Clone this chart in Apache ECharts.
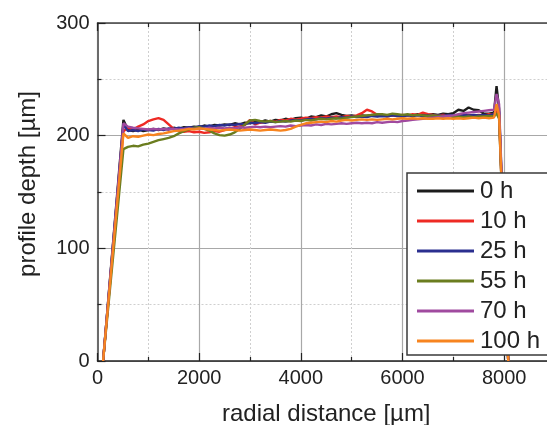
<!DOCTYPE html>
<html>
<head>
<meta charset="utf-8">
<script src="https://cdn.jsdelivr.net/npm/echarts@6/dist/echarts.min.js"></script>
<style>
html,body{margin:0;padding:0;background:#fff;}
#chart{width:547px;height:425px;}
</style>
</head>
<body>
<div id="chart"></div>
<script>
// radial distance sample positions [µm]
var radialDistance = [110, 510,
  600, 700, 800, 900, 1000, 1100, 1200, 1300, 1400, 1500,
  1600, 1700, 1800, 1900, 2000, 2100, 2200, 2300, 2400, 2500,
  2600, 2700, 2800, 2900, 3000, 3100, 3200, 3300, 3400, 3500,
  3600, 3700, 3800, 3900, 4000, 4100, 4200, 4300, 4400, 4500,
  4600, 4700, 4800, 4900, 5000, 5100, 5200, 5300, 5400, 5500,
  5600, 5700, 5800, 5900, 6000, 6100, 6200, 6300, 6400, 6500,
  6600, 6700, 6800, 6900, 7000, 7100, 7200, 7300, 7400, 7500,
  7600, 7700, 7800, 7850, 7900, 8080];

var seriesNames = ['0 h', '10 h', '25 h', '55 h', '70 h', '100 h'];
var seriesColors = ['#1c1c1c', '#ee2a24', '#2b2f8f', '#6b7d1f', '#a04a9f', '#f7841f'];

// profile depth [µm]
var depth0h = [0, 214,
  205, 204, 205.5, 204, 205, 206, 205, 206.5, 205.5, 207,
  206, 207.5, 207, 208, 207.5, 209, 208, 209.5, 209, 210,
  209.5, 211, 210, 211.5, 211, 212.5, 212, 213.5, 212.5, 214,
  213.5, 215, 214, 215.5, 216, 215, 217, 216.5, 218, 217,
  219, 220, 218.5, 217.5, 218, 217, 218, 217.5, 218.5, 217.5,
  218, 217.5, 218.5, 218, 217.5, 218.5, 218, 219, 218, 218.5,
  219, 218.5, 219.5, 219, 220, 223, 222, 225, 223, 222.5,
  219.5, 219.5, 220.5, 244, 224, 0];
var depth10h = [0, 204,
  207, 205.5, 208, 210, 213, 214.5, 215.5, 214, 210, 206,
  204.5, 203.5, 204, 203, 203.5, 202.5, 203, 204, 203.5, 205,
  206, 207.5, 208, 209.5, 214, 210, 211.5, 212, 213, 212.5,
  214, 213.5, 215, 214.5, 215, 216, 215.5, 216.5, 216, 217,
  216.5, 217, 216.5, 217.5, 217, 218, 220, 223, 221.5, 218.5,
  218, 217.5, 218, 217.5, 218.5, 218, 219, 218.5, 220.5, 219,
  218.5, 218, 218.5, 218, 217.5, 218.5, 218, 218.5, 218, 218.5,
  218, 219, 218.5, 222, 218, 0];
var depth25h = [0, 210,
  204, 205, 204, 205.5, 205, 204.5, 206, 205, 206.5, 206,
  207, 206.5, 207.5, 207, 208.5, 208, 209, 208.5, 209.5, 209,
  210, 209.5, 210.5, 210, 211.5, 211, 212, 211.5, 212.5, 212,
  213, 212.5, 213.5, 214, 213.5, 214.5, 215, 214.5, 215.5, 215,
  216, 215.5, 216.5, 216, 217, 216.5, 217, 216.5, 217.5, 217,
  217.5, 217, 218, 217.5, 217, 218, 217.5, 218, 217.5, 218,
  217.5, 218, 217.5, 218.5, 218, 217.5, 218.5, 218, 218.5, 218,
  218.5, 218, 219, 226, 221, 0];
var depth55h = [0, 188,
  190, 191, 190.5, 192, 193, 194.5, 196, 197, 198, 199.5,
  202, 204, 205.5, 207, 207.5, 206, 204.5, 202, 200.5, 200,
  201, 203, 206, 210, 213.5, 214, 213, 212.5, 213, 212,
  212.5, 213, 212.5, 213.5, 213, 214, 213.5, 214.5, 215, 214.5,
  215, 215.5, 215, 216, 216.5, 217, 217.5, 218, 218.5, 219,
  219, 218.5, 219.5, 219, 218.5, 219, 218, 218.5, 218, 217.5,
  218, 217.5, 217, 217.5, 216.5, 217, 216.5, 217, 216.5, 217,
  217, 217.5, 217, 220, 215, 0];
var depth70h = [0, 211,
  208, 207, 206.5, 206, 205.5, 206, 205.5, 206, 205.5, 206,
  205.5, 206, 206.5, 206, 206.5, 206, 207, 206.5, 207, 206.5,
  207, 206.5, 207.5, 207, 207.5, 208, 207.5, 208, 207.5, 208,
  208.5, 208, 209, 208.5, 209, 209.5, 209, 210, 209.5, 210.5,
  210, 210.5, 211, 210.5, 211, 211.5, 211, 211.5, 211, 212,
  211.5, 212, 212.5, 212, 213, 213.5, 214, 214.5, 215, 215.5,
  216, 216.5, 217, 217.5, 218, 219, 220, 220.5, 221, 221.5,
  222, 222.5, 223, 237, 228, 0];
var depth100h = [0, 202,
  198, 199.5, 199, 200, 201, 200.5, 201.5, 202, 203, 204,
  204.5, 205, 206, 205.5, 206.5, 206, 205.5, 205, 204.5, 205,
  205.5, 205, 204.5, 205, 205.5, 205, 204.5, 205, 205.5, 205,
  204.5, 205, 206, 208, 209.5, 211, 211.5, 212, 212.5, 212,
  213, 212.5, 213.5, 214, 213.5, 214, 214.5, 214, 214.5, 214,
  214.5, 215, 214.5, 215, 215.5, 215, 215.5, 215, 215.5, 215,
  215, 215.5, 215, 215.5, 215, 215.5, 215, 215.5, 216, 215.5,
  216, 215.5, 216, 228, 218, 0];

var depthSeries = [depth0h, depth10h, depth25h, depth55h, depth70h, depth100h];

var FONT = '"Liberation Sans", Arial, Helvetica, sans-serif';

var series = depthSeries.map(function (vals, i) {
  return {
    name: seriesNames[i],
    type: 'line',
    symbol: 'none',
    color: seriesColors[i],
    lineStyle: { width: 2.4, color: seriesColors[i] },
    data: vals.map(function (v, k) { return [radialDistance[k], v]; }),
    z: 2 + i
  };
});

var chart = echarts.init(document.getElementById('chart'));
chart.setOption({
  animation: false,
  backgroundColor: '#ffffff',
  grid: { left: 97.5, top: 23, bottom: 64, right: -8, containLabel: false, outerBoundsMode: 'none' },
  legend: {
    z: 30,
    orient: 'vertical',
    left: 407,
    top: 173,
    padding: [6, 24, 2, 10],
    icon: 'path://M0,0L57,0L57,3L0,3Z',
    itemWidth: 57,
    itemHeight: 24,
    itemGap: 6,
    backgroundColor: '#ffffff',
    borderColor: '#3a3a3a',
    borderWidth: 1.5,
    borderRadius: 0,
    textStyle: { fontFamily: FONT, fontSize: 24, color: '#222', padding: [0, 0, 0, 1] },
    data: seriesNames
  },
  xAxis: [{
    type: 'value',
    min: 0, max: 9000, interval: 2000,
    name: 'radial distance [µm]',
    nameLocation: 'middle',
    nameGap: 41,
    nameTextStyle: { fontFamily: FONT, fontSize: 24, color: '#222' },
    axisLine: { show: true, lineStyle: { color: '#222', width: 1.5 } },
    axisTick: { show: true, inside: true, length: 8, lineStyle: { color: '#222', width: 1.2 } },
    minorTick: { show: true, splitNumber: 2, length: 4, lineStyle: { color: '#222', width: 1.2 } },
    axisLabel: { fontFamily: FONT, fontSize: 20, color: '#222', margin: 7, showMaxLabel: false,
      formatter: function (v) { return String(v); } },
    splitLine: { show: true, lineStyle: { color: '#a8a8a8', width: 1.2 } },
    minorSplitLine: { show: true, lineStyle: { color: '#cfcfcf', width: 1, type: [2, 2] } }
  }, {
    type: 'value',
    position: 'top',
    min: 0, max: 9000, interval: 2000,
    axisLine: { show: true, lineStyle: { color: '#444', width: 1.5 } },
    axisTick: { show: true, inside: true, length: 8, lineStyle: { color: '#222', width: 1.2 } },
    minorTick: { show: true, splitNumber: 2, length: 4, lineStyle: { color: '#222', width: 1.2 } },
    axisLabel: { show: false },
    splitLine: { show: false }
  }],
  yAxis: {
    type: 'value',
    min: 0, max: 300, interval: 100,
    name: 'profile depth [µm]',
    nameLocation: 'middle',
    nameGap: 57,
    nameTextStyle: { fontFamily: FONT, fontSize: 24, color: '#222', padding: [0, 0, 0, 16] },
    axisLine: { show: true, lineStyle: { color: '#6b6b6b', width: 2 } },
    axisTick: { show: true, inside: true, length: 8, lineStyle: { color: '#222', width: 1.2 } },
    minorTick: { show: true, splitNumber: 2, length: 4, lineStyle: { color: '#222', width: 1.2 } },
    axisLabel: { fontFamily: FONT, fontSize: 20, color: '#222', margin: 8,
      formatter: function (v) { return String(v); } },
    splitLine: { show: true, lineStyle: { color: '#a8a8a8', width: 1.2 } },
    minorSplitLine: { show: true, lineStyle: { color: '#cfcfcf', width: 1, type: [2, 2] } }
  },
  series: series
});
</script>
</body>
</html>
